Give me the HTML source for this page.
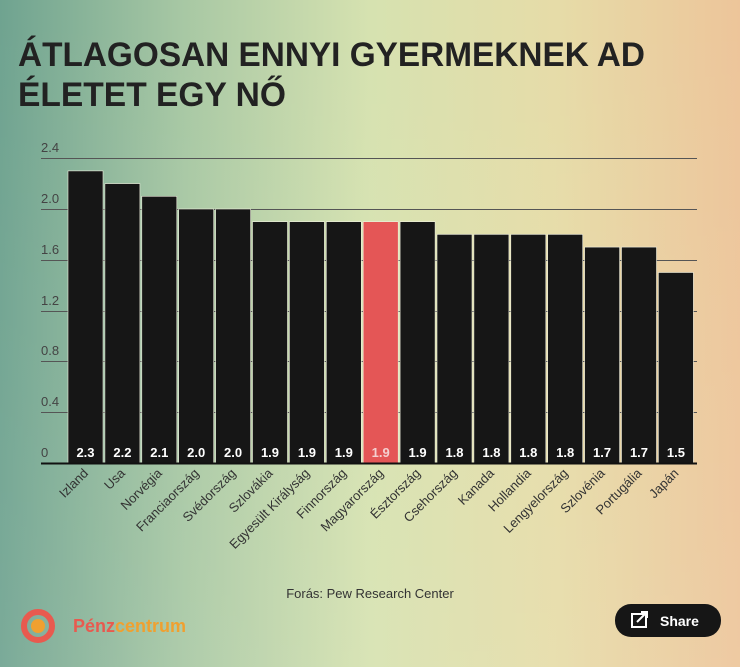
<!DOCTYPE html>
<html><head><meta charset="utf-8"><style>
html,body{margin:0;padding:0;width:740px;height:667px;overflow:hidden}
</style></head><body>
<svg width="740" height="667" xmlns="http://www.w3.org/2000/svg" font-family="Liberation Sans, sans-serif">
<defs>
<linearGradient id="bg" x1="0" y1="0" x2="1" y2="0">
<stop offset="0" stop-color="#6fa390"/>
<stop offset="0.25" stop-color="#a8c8a4"/>
<stop offset="0.5" stop-color="#d6e2b0"/>
<stop offset="0.75" stop-color="#e6dca8"/>
<stop offset="1" stop-color="#edc59a"/>
</linearGradient>
<linearGradient id="bg2" x1="0" y1="0" x2="0" y2="1">
<stop offset="0" stop-color="#ffffff" stop-opacity="0"/>
<stop offset="1" stop-color="#ffffff" stop-opacity="0.08"/>
</linearGradient>
</defs>
<rect width="740" height="667" fill="url(#bg)"/>
<rect width="740" height="667" fill="url(#bg2)"/>
<g font-family="Liberation Sans Narrow, Liberation Sans, sans-serif" font-weight="bold" fill="#222" font-size="34">
<text x="18" y="66" textLength="627" lengthAdjust="spacingAndGlyphs">ÁTLAGOSAN ENNYI GYERMEKNEK AD</text>
<text x="18" y="106" textLength="268" lengthAdjust="spacingAndGlyphs">ÉLETET EGY NŐ</text>
</g>
<g stroke="#555" stroke-width="1">
<line x1="41" y1="158.5" x2="697" y2="158.5"/>
<line x1="41" y1="209.5" x2="697" y2="209.5"/>
<line x1="41" y1="260.5" x2="697" y2="260.5"/>
<line x1="41" y1="311.5" x2="697" y2="311.5"/>
<line x1="41" y1="361.5" x2="697" y2="361.5"/>
<line x1="41" y1="412.5" x2="697" y2="412.5"/>
</g>
<g font-size="13" fill="#444">
<text x="41" y="152">2.4</text>
<text x="41" y="203">2.0</text>
<text x="41" y="254">1.6</text>
<text x="41" y="305">1.2</text>
<text x="41" y="355">0.8</text>
<text x="41" y="406">0.4</text>
<text x="41" y="457">0</text>
</g>
<g id="bars"></g>
<line x1="41" y1="463.5" x2="697" y2="463.5" stroke="#111" stroke-width="2"/>
<g id="labels"></g>
<text x="370" y="598" font-size="13" fill="#333" text-anchor="middle">Forás: Pew Research Center</text>
<circle cx="38" cy="626" r="14" fill="none" stroke="#e85a4f" stroke-width="6"/>
<circle cx="38" cy="626" r="7" fill="#f0a030"/>
<text x="73" y="632" font-size="18" font-weight="bold" fill="#e85a4f">Pénz<tspan fill="#f0a030">centrum</tspan></text>
<rect x="615" y="604" width="106" height="33" rx="16" fill="#161616"/>
<rect x="632" y="614" width="14" height="13" fill="none" stroke="#fff" stroke-width="2"/>
<path d="M637 622 L646 613 M641 612 L647 612 L647 618" stroke="#fff" stroke-width="2" fill="none"/>
<text x="660" y="626" font-size="14" font-weight="bold" fill="#fff">Share</text>
<script>
var d=[["Izland",2.3],["Usa",2.2],["Norvégia",2.1],["Franciaország",2.0],["Svédország",2.0],["Szlovákia",1.9],["Egyesült Királyság",1.9],["Finnország",1.9],["Magyarország",1.9],["Észtország",1.9],["Csehország",1.8],["Kanada",1.8],["Hollandia",1.8],["Lengyelország",1.8],["Szlovénia",1.7],["Portugália",1.7],["Japán",1.5]];
var ns="http://www.w3.org/2000/svg",b=document.getElementById("bars"),l=document.getElementById("labels");
d.forEach(function(e,i){
var x=68+i*36.9,h=e[1]*127,y=463-h;
var r=document.createElementNS(ns,"rect");r.setAttribute("x",x);r.setAttribute("y",y);r.setAttribute("width",35);r.setAttribute("height",h);
r.setAttribute("fill",i==8?"#e45656":"#161616");r.setAttribute("stroke","#f0f0e0");r.setAttribute("stroke-width","0.6");b.appendChild(r);
var t=document.createElementNS(ns,"text");t.setAttribute("x",x+17.5);t.setAttribute("y",457);t.setAttribute("text-anchor","middle");
t.setAttribute("font-size","13");t.setAttribute("font-weight","bold");t.setAttribute("fill",i==8?"#f4d0d0":"#fff");t.textContent=e[1].toFixed(1);b.appendChild(t);
var c=x+21;
var s=document.createElementNS(ns,"text");s.setAttribute("transform","translate("+c+",474) rotate(-45)");s.setAttribute("text-anchor","end");
s.setAttribute("font-size","13");s.setAttribute("fill","#333");s.textContent=e[0];l.appendChild(s);
});
</script>
</svg>
</body></html>
